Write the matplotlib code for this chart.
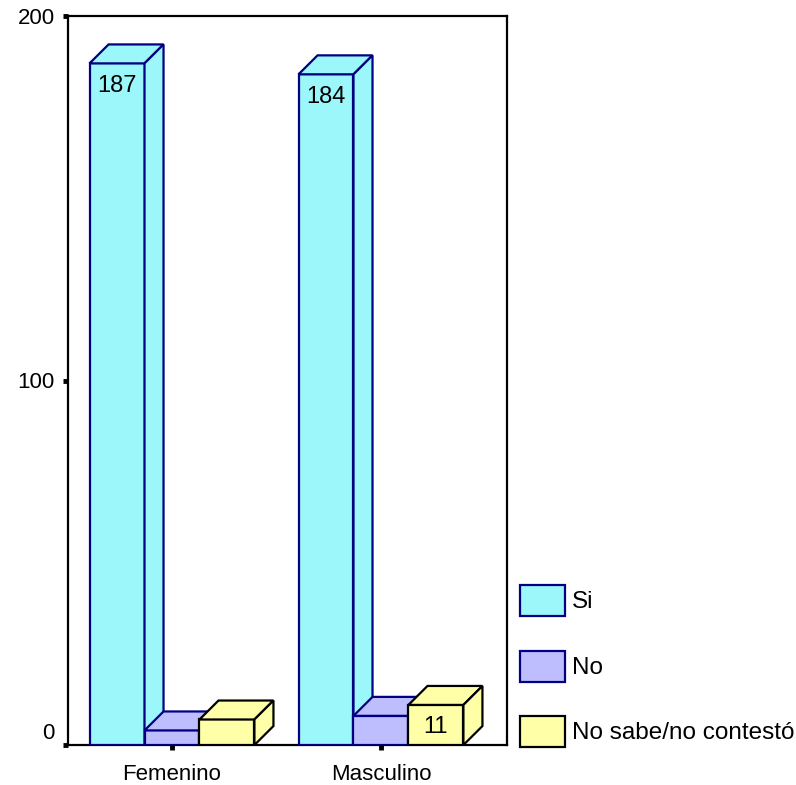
import numpy as np
import matplotlib.pyplot as plt
from matplotlib.patches import Polygon, Rectangle
from matplotlib.transforms import ScaledTranslation

plt.rcParams['font.family'] = ['Liberation Sans', 'DejaVu Sans']

# counts per sex and answer
groups = ["Femenino", "Masculino"]
answers = ["Si", "No", "No sabe/no contestó"]
si_vals = [187, 184]
no_vals = [4, 8]
ns_vals = [7, 11]

face_colors = ["#9BF7FA", "#BEBEFF", "#FFFFA8"]
edge_colors = ["#000080", "#000080", "#000000"]

fig = plt.figure(figsize=(7.96, 7.85), dpi=100)
W, H = 796, 785
ax = fig.add_axes([68 / W, 40 / H, 439 / W, 729 / H])

bar_w = 0.263
dx, dy = 0.091, 5.2   # depth offset of the pseudo-3D boxes
ax.set_xlim(-0.4976, 1.603)
ax.set_ylim(0, 200)

x = np.arange(len(groups))
series = [si_vals, no_vals, ns_vals]


def box(ax, x0, h, fc, ec):
    # front face, top face and right side of one bar
    ax.add_patch(Rectangle((x0, 0), bar_w, h, fc=fc, ec=ec, lw=1.6, zorder=3))
    top = [(x0, h), (x0 + dx, h + dy), (x0 + bar_w + dx, h + dy), (x0 + bar_w, h)]
    side = [(x0 + bar_w, 0), (x0 + bar_w + dx, dy), (x0 + bar_w + dx, h + dy), (x0 + bar_w, h)]
    ax.add_patch(Polygon(top, closed=True, fc=fc, ec=ec, lw=1.6, zorder=3))
    ax.add_patch(Polygon(side, closed=True, fc=fc, ec=ec, lw=1.6, zorder=3))


for gi in range(len(groups)):
    for si, vals in enumerate(series):
        x0 = x[gi] + (si - 1) * bar_w - bar_w / 2
        v = vals[gi]
        box(ax, x0, v, face_colors[si], edge_colors[si])
        if v >= 10:
            ax.annotate(str(v), (x0 + bar_w / 2, v), xytext=(0, -16),
                        textcoords="offset points", ha="center", va="center",
                        fontsize=17, zorder=4)

ax.set_xticks(x)
ax.set_xticklabels(groups, fontsize=16)
ax.set_yticks([0, 100, 200])
ax.set_yticklabels(["0", "100", "200"], fontsize=16)
ax.tick_params(direction="out", length=3.5, width=3.5)
ax.tick_params(axis="x", pad=10)
ax.tick_params(axis="y", pad=6)
# the zero label sits just above the baseline
zero = ax.get_yticklabels()[0]
zero.set_verticalalignment("bottom")
zero.set_transform(zero.get_transform() + ScaledTranslation(0, 1 / 72, fig.dpi_scale_trans))
for s in ax.spines.values():
    s.set_linewidth(1.6)

# legend boxes on the right
leg_y = [585, 651, 716]
for i, lab in enumerate(answers):
    y0 = leg_y[i]
    fig.patches.append(Rectangle((520 / W, 1 - (y0 + 31) / H), 45 / W, 31 / H,
                                 transform=fig.transFigure, fc=face_colors[i],
                                 ec=edge_colors[i], lw=1.6))
    fig.text(572 / W, 1 - (y0 + 17) / H, lab, fontsize=17.5, va="center", ha="left")

fig.savefig("out.png", dpi=100)
